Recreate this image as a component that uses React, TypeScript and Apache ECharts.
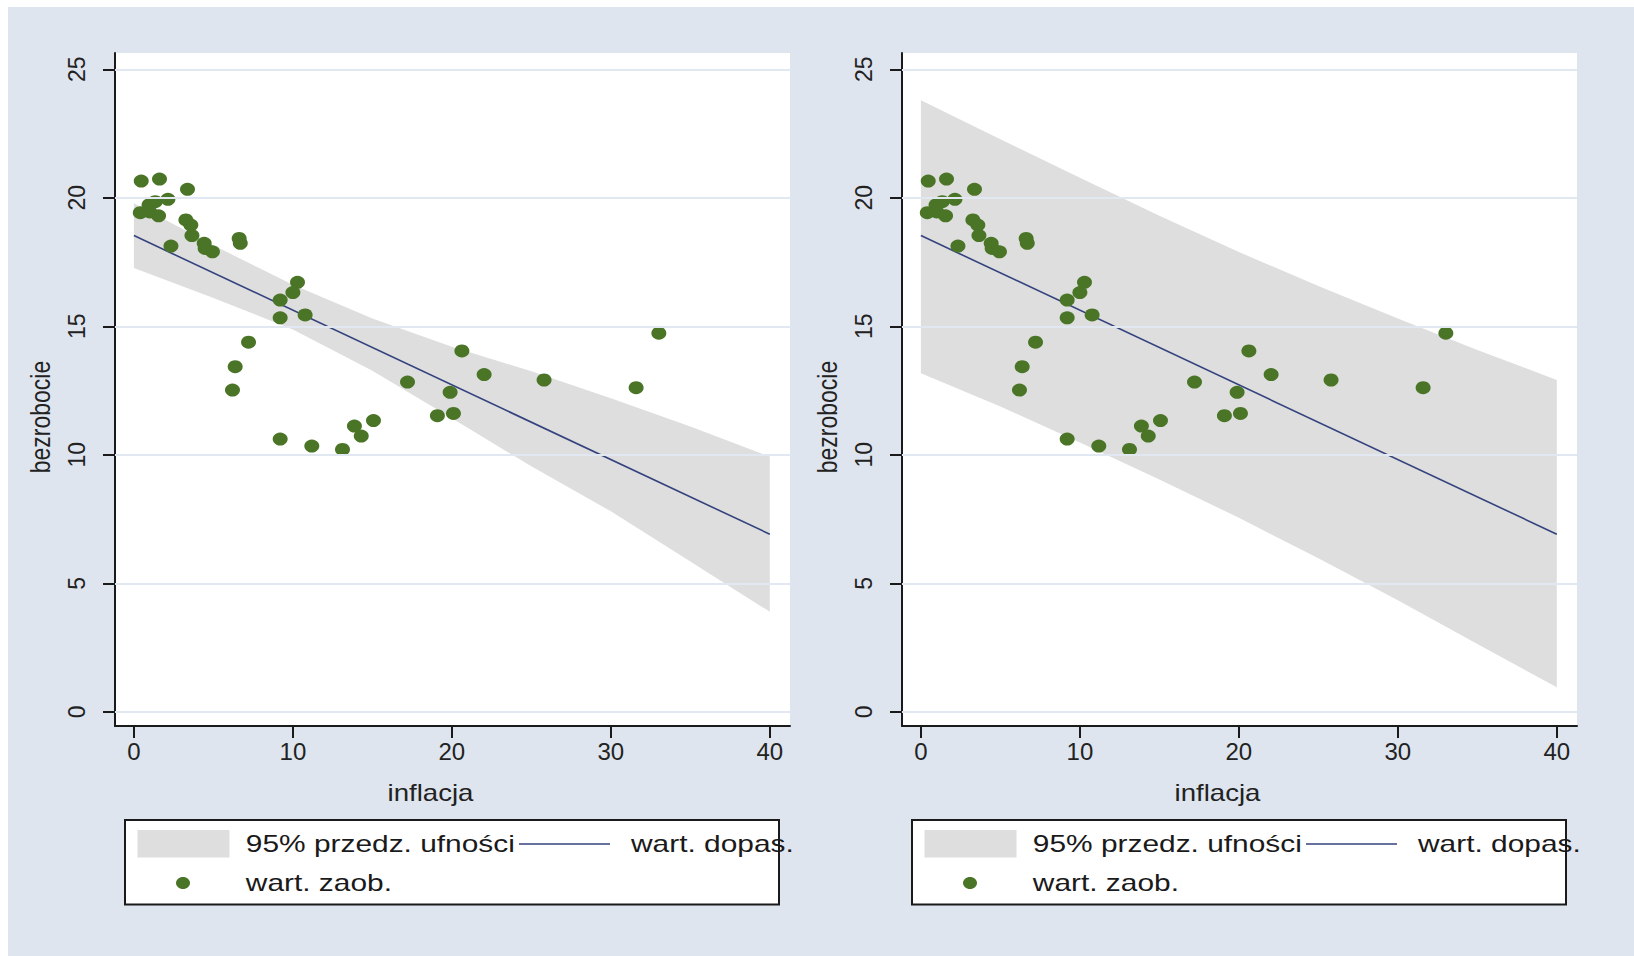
import React, { useEffect, useRef } from "react";
import * as echarts from "echarts";

// ---- data ----
const inflacja = [
  0.46, 1.61, 3.37, 2.14, 1.34, 0.95, 0.4, 1.0, 1.55, 3.27, 3.58, 3.65, 4.42, 4.48, 4.94, 2.33, 6.62, 6.69,
  20.63, 22.03, 25.8, 31.59, 33.02, 17.21, 19.89, 19.09, 20.1,
  9.2, 10.0, 10.29, 9.2, 10.77, 7.21, 6.37, 6.2, 9.2, 11.19, 13.12, 13.87, 14.3, 15.07,
];
const bezrobocie = [
  20.65, 20.73, 20.33, 19.94, 19.85, 19.72, 19.42, 19.45, 19.3, 19.14, 18.94, 18.53, 18.23, 18.03, 17.9, 18.12, 18.42, 18.23,
  14.04, 13.12, 12.91, 12.61, 14.73, 12.83, 12.43, 11.52, 11.61,
  16.02, 16.31, 16.71, 15.33, 15.44, 14.38, 13.43, 12.52, 10.61, 10.34, 10.21, 11.12, 10.73, 11.33,
];

const fitX = [0, 40];
const fitY = [18.53, 6.91];

const bandX = [0, 5, 10, 15, 20, 25, 30, 35, 40];
// left panel: 95% confidence band of the fit
const ciUpper = [19.79, 18.15, 16.62, 15.3, 14.2, 13.25, 12.2, 11.1, 9.93];
const ciLower = [17.27, 16.1, 14.88, 13.27, 11.42, 9.55, 7.8, 5.85, 3.89];
// right panel: 95% prediction band
const piUpper = [23.8, 22.28, 20.78, 19.3, 17.89, 16.57, 15.3, 14.08, 12.91];
const piLower = [13.17, 11.88, 10.48, 9.04, 7.55, 5.97, 4.34, 2.64, 0.95];

const X_TICKS = [0, 10, 20, 30, 40];
const Y_TICKS = [0, 5, 10, 15, 20, 25];

const xTitle = "inflacja";
const yTitle = "bezrobocie";
const legendBand = "95% przedz. ufności";
const legendFit = "wart. dopas.";
const legendObs = "wart. zaob.";

// ---- style ----
const BG = "#dfe5ee";
const GRIDLINE = "#e1e8f1";
const BAND = "#dedede";
const FIT = "#34427e";
const DOT = "#4a7527";
const AXIS = "#1a1a1a";
const FONT = "Liberation Sans, Arial, sans-serif";
const DX = 787;

export default function App() {
  const ref = useRef<HTMLDivElement>(null);

  useEffect(() => {
    if (!ref.current) return;
    const chart = echarts.init(ref.current, undefined, { renderer: "svg" });

    const bands = [
      { up: ciUpper, lo: ciLower },
      { up: piUpper, lo: piLower },
    ];

    const grids: any[] = [];
    const xAxes: any[] = [];
    const yAxes: any[] = [];
    const series: any[] = [];
    const graphics: any[] = [];

    [0, 1].forEach((i) => {
      const off = i * DX;
      grids.push({
        left: 107 + off,
        top: 46,
        width: 675,
        height: 673,
        show: true,
        backgroundColor: "#ffffff",
        borderWidth: 0,
      });
      xAxes.push({
        type: "value",
        gridIndex: i,
        min: -1.19,
        max: 41.27,
        axisLine: { show: true, onZero: false, lineStyle: { color: AXIS, width: 2 } },
        axisTick: { show: true, length: 12, customValues: X_TICKS, lineStyle: { color: AXIS, width: 2 } },
        axisLabel: { customValues: X_TICKS, margin: 13, fontSize: 24, fontFamily: FONT, color: "#222" },
        splitLine: { show: false },
      });
      yAxes.push({
        type: "value",
        gridIndex: i,
        min: -0.553,
        max: 25.634,
        axisLine: { show: true, onZero: false, lineStyle: { color: AXIS, width: 2 } },
        axisTick: { show: true, length: 12, customValues: Y_TICKS, lineStyle: { color: AXIS, width: 2 } },
        axisLabel: { customValues: Y_TICKS, rotate: 90, margin: 27, fontSize: 23, fontFamily: FONT, color: "#222" },
        splitLine: { show: false },
      });

      // grid lines
      series.push({
        type: "line",
        xAxisIndex: i,
        yAxisIndex: i,
        data: [],
        z: 1,
        silent: true,
        markLine: {
          silent: true,
          symbol: "none",
          label: { show: false },
          lineStyle: { color: GRIDLINE, width: 2, type: "solid" },
          data: Y_TICKS.map((v) => ({ yAxis: v })),
        },
      });

      const b = bands[i];
      series.push({
        type: "custom",
        xAxisIndex: i,
        yAxisIndex: i,
        z: 2,
        silent: true,
        data: bandX.map((x, k) => [x, b.up[k], b.lo[k]]),
        encode: { x: 0, y: [1, 2] },
        renderItem: (params: any, api: any) => {
          if (params.dataIndex !== 0) return { type: "group", children: [] };
          const pts: number[][] = [];
          for (let k = 0; k < bandX.length; k++) pts.push(api.coord([bandX[k], b.up[k]]));
          for (let k = bandX.length - 1; k >= 0; k--) pts.push(api.coord([bandX[k], b.lo[k]]));
          return { type: "polygon", shape: { points: pts }, style: { fill: BAND } };
        },
      });

      series.push({
        type: "line",
        xAxisIndex: i,
        yAxisIndex: i,
        z: 3,
        symbol: "none",
        data: fitX.map((x, k) => [x, fitY[k]]),
        lineStyle: { color: FIT, width: 1.6 },
      });

      series.push({
        type: "scatter",
        xAxisIndex: i,
        yAxisIndex: i,
        z: 4,
        symbol: "circle",
        symbolSize: [15, 13],
        itemStyle: { color: DOT, opacity: 1 },
        data: inflacja.map((x, k) => [x, bezrobocie[k]]),
      });

      // axis titles
      graphics.push({
        type: "text",
        x: 422.5 + off,
        y: 786,
        scaleX: 1.2,
        style: { text: xTitle, fontSize: 23, fontFamily: FONT, fill: "#222", align: "center", verticalAlign: "middle" },
      });
      graphics.push({
        type: "text",
        x: 32 + off,
        y: 410,
        rotation: Math.PI / 2,
        scaleY: 1.2,
        style: { text: yTitle, fontSize: 23, fontFamily: FONT, fill: "#222", align: "center", verticalAlign: "middle" },
      });

      // legend
      graphics.push({
        type: "rect",
        shape: { x: 117 + off, y: 813, width: 654, height: 84.5 },
        style: { fill: "#ffffff", stroke: AXIS, lineWidth: 2 },
      });
      graphics.push({
        type: "rect",
        shape: { x: 129.5 + off, y: 823, width: 92, height: 27.5 },
        style: { fill: BAND },
      });
      graphics.push({
        type: "text",
        x: 237.8 + off,
        y: 837,
        scaleX: 1.3,
        style: { text: legendBand, fontSize: 23, fontFamily: FONT, fill: "#1a1a1a", align: "left", verticalAlign: "middle" },
      });
      graphics.push({
        type: "line",
        shape: { x1: 511 + off, y1: 837, x2: 602 + off, y2: 837 },
        style: { stroke: FIT, lineWidth: 1.6 },
      });
      graphics.push({
        type: "text",
        x: 623 + off,
        y: 837,
        scaleX: 1.3,
        style: { text: legendFit, fontSize: 23, fontFamily: FONT, fill: "#1a1a1a", align: "left", verticalAlign: "middle" },
      });
      graphics.push({
        type: "ellipse",
        shape: { cx: 175 + off, cy: 876, rx: 7, ry: 6 },
        style: { fill: DOT },
      });
      graphics.push({
        type: "text",
        x: 237.8 + off,
        y: 876,
        scaleX: 1.3,
        style: { text: legendObs, fontSize: 23, fontFamily: FONT, fill: "#1a1a1a", align: "left", verticalAlign: "middle" },
      });
    });

    chart.setOption({
      animation: false,
      backgroundColor: BG,
      grid: grids,
      xAxis: xAxes,
      yAxis: yAxes,
      series,
      graphic: graphics,
    });

    return () => chart.dispose();
  }, []);

  return (
    <div
      ref={ref}
      style={{ position: "absolute", left: 8, top: 7, width: 1626, height: 949 }}
    />
  );
}
